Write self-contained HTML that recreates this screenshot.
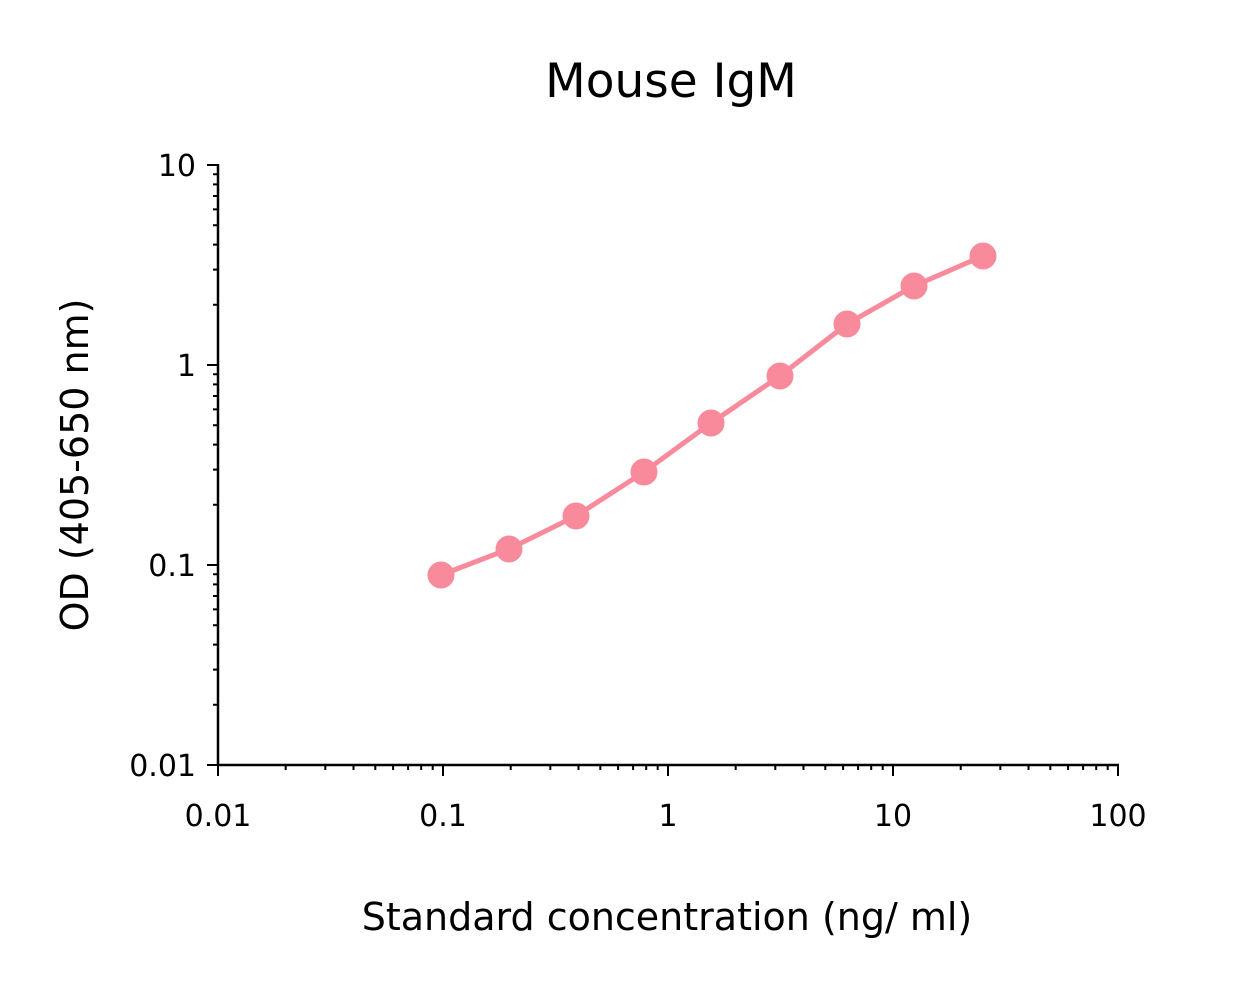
<!DOCTYPE html>
<html><head><meta charset="utf-8"><style>
html,body{margin:0;padding:0;background:#fff;}
svg{display:block;}
text{font-family:"DejaVu Sans","Liberation Sans",sans-serif;fill:#000;}
</style></head><body>
<svg width="1243" height="987" viewBox="0 0 1243 987" xmlns="http://www.w3.org/2000/svg">
<text x="671" y="97" font-size="47" text-anchor="middle">Mouse IgM</text>
<g stroke="#000" stroke-width="2.5" fill="none">
<line x1="218" y1="164" x2="218" y2="766"/>
<line x1="217" y1="765" x2="1119" y2="765"/>
</g>
<g stroke="#000" stroke-width="2" fill="none">
<path d="M218 765v11M443 765v11M668 765v11M893 765v11M1118 765v11
M285.7 765v5M325.3 765v5M353.5 765v5M375.3 765v5M393.1 765v5M408.1 765v5M421.2 765v5M432.7 765v5
M510.7 765v5M550.3 765v5M578.5 765v5M600.3 765v5M618.1 765v5M633.1 765v5M646.2 765v5M657.7 765v5
M735.7 765v5M775.3 765v5M803.5 765v5M825.3 765v5M843.1 765v5M858.1 765v5M871.2 765v5M882.7 765v5
M960.7 765v5M1000.3 765v5M1028.5 765v5M1050.3 765v5M1068.1 765v5M1083.1 765v5M1096.2 765v5M1107.7 765v5"/>
<path d="M218 765h-11M218 565h-11M218 365h-11M218 165h-11
M218 704.8h-5M218 669.6h-5M218 644.6h-5M218 625.2h-5M218 609.4h-5M218 596h-5M218 584.4h-5M218 574.2h-5
M218 504.8h-5M218 469.6h-5M218 444.6h-5M218 425.2h-5M218 409.4h-5M218 396h-5M218 384.4h-5M218 374.2h-5
M218 304.8h-5M218 269.6h-5M218 244.6h-5M218 225.2h-5M218 209.4h-5M218 196h-5M218 184.4h-5M218 174.2h-5"/>
</g>
<g font-size="30">
<text x="196" y="176" text-anchor="end">10</text>
<text x="196" y="376" text-anchor="end">1</text>
<text x="196" y="576" text-anchor="end">0.1</text>
<text x="196" y="776" text-anchor="end">0.01</text>
<text x="218" y="826" text-anchor="middle">0.01</text>
<text x="443" y="826" text-anchor="middle">0.1</text>
<text x="668" y="826" text-anchor="middle">1</text>
<text x="893" y="826" text-anchor="middle">10</text>
<text x="1118" y="826" text-anchor="middle">100</text>
</g>
<text x="667" y="930" font-size="38" text-anchor="middle">Standard concentration (ng/ ml)</text>
<text transform="translate(88,465) rotate(-90)" font-size="38" text-anchor="middle">OD (405-650 nm)</text>
<polyline fill="none" stroke="#f98a9b" stroke-width="5" points="441,575 509,549 576,516 644,472 711,423 780,376 847,324 914,286 983,256"/>
<g fill="#f98a9b">
<circle cx="441" cy="575" r="13.5"/><circle cx="509" cy="549" r="13.5"/><circle cx="576" cy="516" r="13.5"/>
<circle cx="644" cy="472" r="13.5"/><circle cx="711" cy="423" r="13.5"/><circle cx="780" cy="376" r="13.5"/>
<circle cx="847" cy="324" r="13.5"/><circle cx="914" cy="286" r="13.5"/><circle cx="983" cy="256" r="13.5"/>
</g>
</svg>
</body></html>
